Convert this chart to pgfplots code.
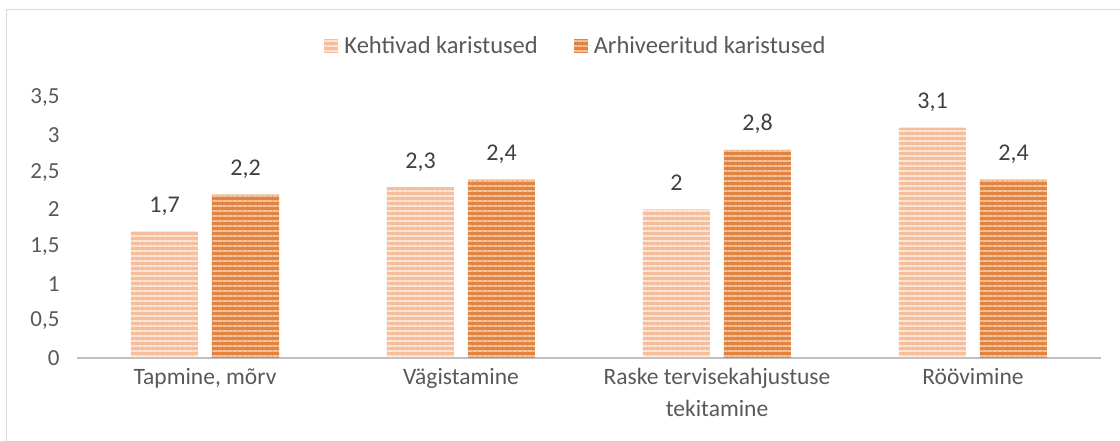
\documentclass[border=0pt]{standalone}
\usepackage{fontspec}
\setmainfont{Carlito}
\usepackage{pgfplots}
\pgfplotsset{compat=1.18}
\usetikzlibrary{patterns.meta}
\definecolor{txt}{HTML}{595959}
\definecolor{lbl}{HTML}{404040}
\definecolor{lightbase}{HTML}{F7BE9C}
\definecolor{lightstripe}{HTML}{FDE6D8}
\definecolor{darkbase}{HTML}{E2833F}
\definecolor{darkstripe}{HTML}{F4C29C}
\definecolor{axisgray}{HTML}{BFBFBF}
\definecolor{bordergray}{HTML}{D9D9D9}
\begin{document}
\begin{tikzpicture}[x=1pt,y=1pt]
\useasboundingbox (0,0) rectangle (1120,441);
\draw[bordergray, line width=1.5pt] (6.5,-5) -- (6.5,431.5) -- (1130,431.5);
\begin{axis}[
  at={(77pt,83pt)}, anchor=south west,
  scale only axis, width=1024pt, height=260pt,
  xmin=-0.5, xmax=3.5, ymin=0, ymax=3.5,
  axis x line*=bottom, axis y line*=left,
  y axis line style={draw=none},
  x axis line style={axisgray, line width=2pt, -},
  xtick={0,1,2,3},
  xticklabels={{Tapmine, mõrv},{Vägistamine},{Raske tervisekahjustuse\\tekitamine},{Röövimine}},
  xticklabel style={font=\fontsize{23.5}{32}\selectfont, text=txt, align=center, yshift=-7pt},
  ytick={0,0.5,...,3.5},
  yticklabel style={font=\fontsize{23}{26}\selectfont, text=txt, xshift=-14pt},
  major tick length=0pt,
  tick style={draw=none},
  /pgf/number format/use comma,
  /pgf/number format/assume math mode=true,
  ybar, bar width=67pt,
  nodes near coords,
  nodes near coords style={font=\fontsize{24}{28}\selectfont, text=lbl, anchor=base, inner sep=0pt, yshift=19pt, /pgf/number format/use comma, /pgf/number format/assume math mode=true},
  legend style={at={(axis description cs:0.5,1)}, anchor=center, xshift=-13pt, yshift=52pt, draw=none, fill=none,
    legend columns=2, font=\fontsize{24.5}{28}\selectfont, text=txt,
    /tikz/every even column/.append style={column sep=34pt}},
  legend image code/.code={\draw[#1, draw=none] (0pt,-7pt) rectangle (14pt,7pt); \path (0pt,0pt) -- (18pt,0pt);},
]
\addplot[bar shift=-40.5pt, fill=lightbase, draw=none,
  postaction={pattern={Lines[angle=0, distance=5pt, line width=2pt]}, pattern color=lightstripe}]
  coordinates {(0,1.7) (1,2.3) (2,2) (3,3.1)};
\addlegendentry{Kehtivad karistused}
\addplot[bar shift=40.5pt, fill=darkbase, draw=none,
  postaction={pattern={Lines[angle=0, distance=5pt, line width=2pt]}, pattern color=darkstripe}]
  coordinates {(0,2.2) (1,2.4) (2,2.8) (3,2.4)};
\addlegendentry{Arhiveeritud karistused}
\end{axis}
\end{tikzpicture}
\end{document}
